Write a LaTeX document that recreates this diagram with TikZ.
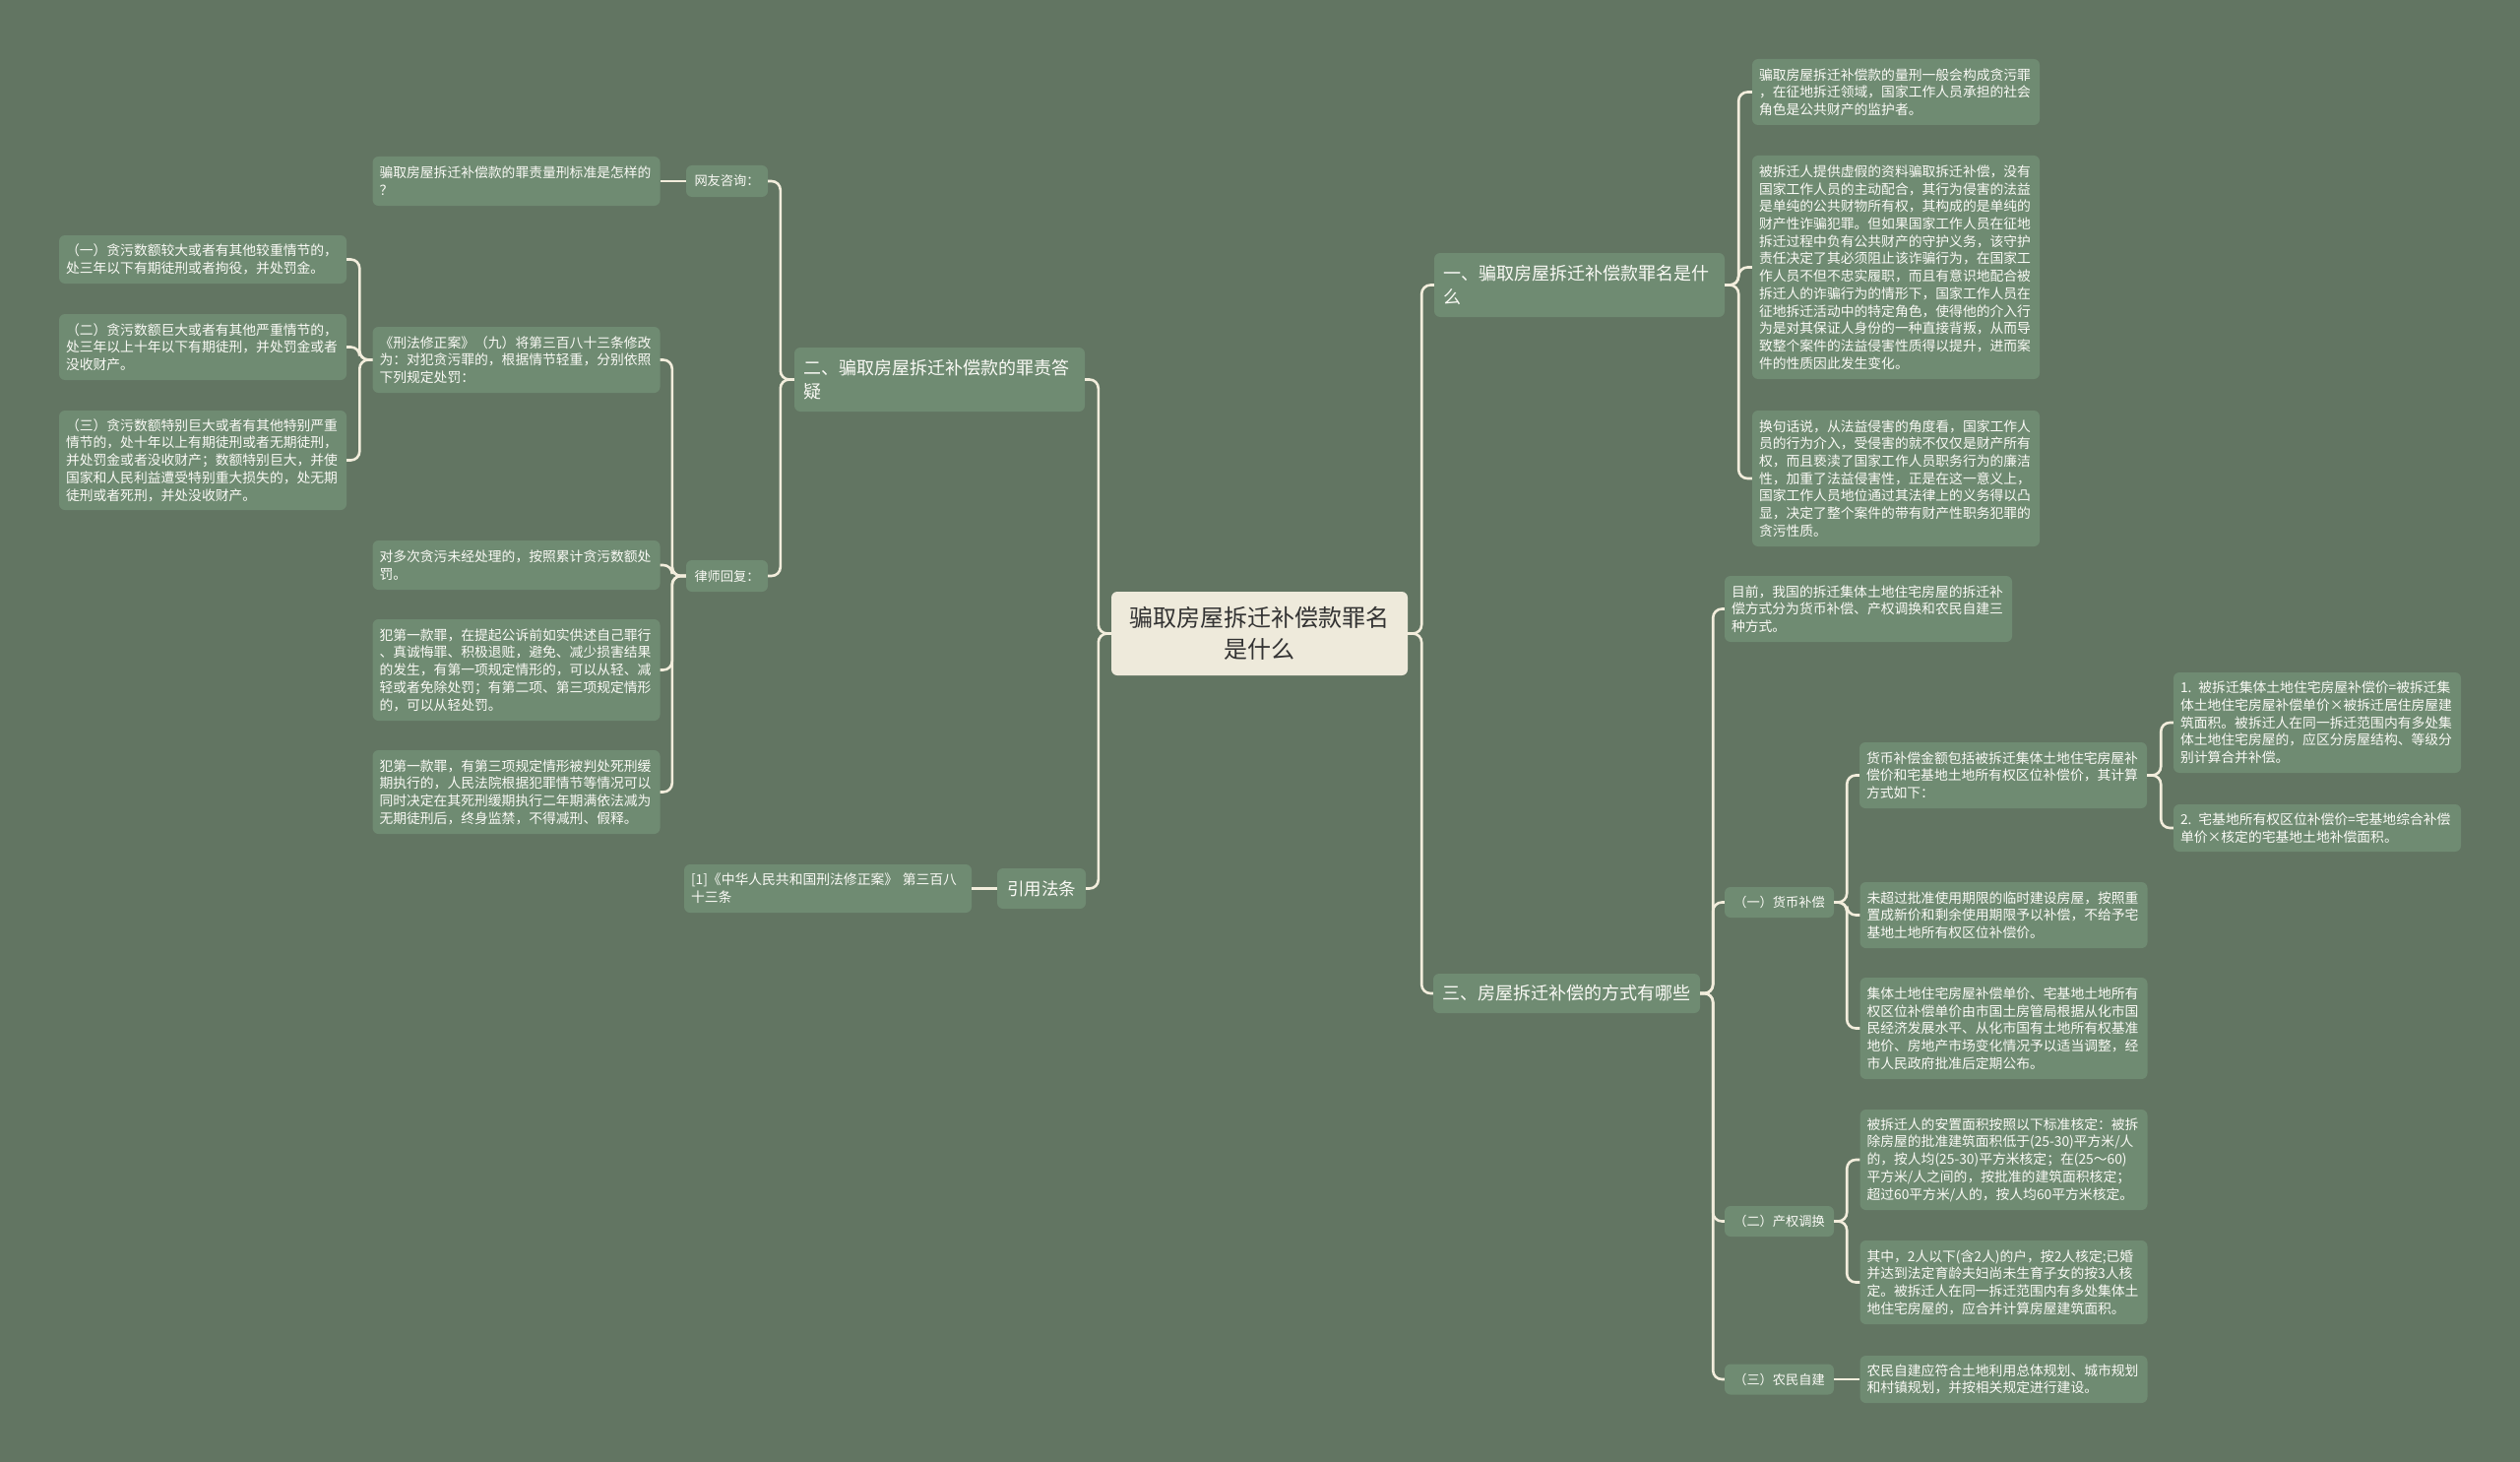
\documentclass[tikz,border=0pt]{standalone}
\usepackage{fontspec}
\setmainfont{Noto Sans CJK SC}
\definecolor{bg}{HTML}{627562}
\definecolor{boxc}{HTML}{6F8B72}
\definecolor{linec}{HTML}{F2EDDC}
\definecolor{rootc}{HTML}{EEEADB}
\definecolor{txt}{HTML}{FAFAF5}
\definecolor{roottxt}{HTML}{333333}
\tikzset{
  leaf/.style={fill=boxc, rounded corners=6pt, text=txt, inner xsep=7pt, inner ysep=0pt,
    text width=278pt, align=left, font=\fontsize{13.8}{17.7}\selectfont},
  midbox/.style={fill=boxc, rounded corners=6pt, text=txt, inner sep=0pt,
    minimum width=111pt, minimum height=31pt, align=center, font=\fontsize{13.2}{17}\selectfont},
  headbox/.style={fill=boxc, rounded corners=6pt, text=txt, inner xsep=9pt, inner ysep=0pt,
    align=left, font=\fontsize{18}{24}\selectfont},
  rootbox/.style={fill=rootc, rounded corners=6pt, text=roottxt, inner sep=0pt,
    minimum width=301pt, minimum height=85pt, text width=290pt, align=center,
    font=\fontsize{24}{32}\selectfont},
  conn/.style={draw=linec, line width=2.6pt, rounded corners=9pt},
}
\begin{document}
\begin{tikzpicture}[x=1pt,y=-1pt]
\useasboundingbox (0,0) rectangle (2560,1485);
\fill[bg] (0,0) rectangle (2560,1485);

% root
\node[rootbox] (root) at (1279.5,643.5) {骗取房屋拆迁补偿款罪名\\是什么};

% right side
\node[headbox, text width=277pt, minimum height=65pt] (b1) at (1604.5,289.5) {一、骗取房屋拆迁补偿款罪名是什\\么};
\node[headbox, text width=253pt, minimum height=40pt] (b3) at (1591.5,1009) {三、房屋拆迁补偿的方式有哪些};

\node[leaf, minimum height=67pt] (L1a) at (1926,93.5) {骗取房屋拆迁补偿款的量刑一般会构成贪污罪\\，在征地拆迁领域，国家工作人员承担的社会\\角色是公共财产的监护者。};
\node[leaf, minimum height=227pt] (L1b) at (1926,271.5) {被拆迁人提供虚假的资料骗取拆迁补偿，没有\\国家工作人员的主动配合，其行为侵害的法益\\是单纯的公共财物所有权，其构成的是单纯的\\财产性诈骗犯罪。但如果国家工作人员在征地\\拆迁过程中负有公共财产的守护义务，该守护\\责任决定了其必须阻止该诈骗行为，在国家工\\作人员不但不忠实履职，而且有意识地配合被\\拆迁人的诈骗行为的情形下，国家工作人员在\\征地拆迁活动中的特定角色，使得他的介入行\\为是对其保证人身份的一种直接背叛，从而导\\致整个案件的法益侵害性质得以提升，进而案\\件的性质因此发生变化。};
\node[leaf, minimum height=138pt] (L1c) at (1926,486) {换句话说，从法益侵害的角度看，国家工作人\\员的行为介入，受侵害的就不仅仅是财产所有\\权，而且亵渎了国家工作人员职务行为的廉洁\\性，加重了法益侵害性，正是在这一意义上，\\国家工作人员地位通过其法律上的义务得以凸\\显，决定了整个案件的带有财产性职务犯罪的\\贪污性质。};

\node[leaf, minimum height=67pt] (intro) at (1898,618.5) {目前，我国的拆迁集体土地住宅房屋的拆迁补\\偿方式分为货币补偿、产权调换和农民自建三\\种方式。};
\node[midbox] (m1) at (1807.5,916.5) {（一）货币补偿};
\node[midbox] (m2) at (1807.5,1240.5) {（二）产权调换};
\node[midbox] (m3) at (1807.5,1401) {（三）农民自建};

\node[leaf, minimum height=67pt] (ma) at (2035,787.5) {货币补偿金额包括被拆迁集体土地住宅房屋补\\偿价和宅基地土地所有权区位补偿价，其计算\\方式如下：};
\node[leaf, minimum height=67pt] (mb) at (2035.5,929.5) {未超过批准使用期限的临时建设房屋，按照重\\置成新价和剩余使用期限予以补偿，不给予宅\\基地土地所有权区位补偿价。};
\node[leaf, minimum height=103pt] (mc) at (2035.5,1044.5) {集体土地住宅房屋补偿单价、宅基地土地所有\\权区位补偿单价由市国土房管局根据从化市国\\民经济发展水平、从化市国有土地所有权基准\\地价、房地产市场变化情况予以适当调整，经\\市人民政府批准后定期公布。};

\node[leaf, minimum height=102pt] (s1) at (2354,734) {1. 被拆迁集体土地住宅房屋补偿价=被拆迁集\\体土地住宅房屋补偿单价×被拆迁居住房屋建\\筑面积。被拆迁人在同一拆迁范围内有多处集\\体土地住宅房屋的，应区分房屋结构、等级分\\别计算合并补偿。};
\node[leaf, minimum height=48pt] (s2) at (2354,841) {2. 宅基地所有权区位补偿价=宅基地综合补偿\\单价×核定的宅基地土地补偿面积。};

\node[leaf, minimum height=102pt] (p1) at (2035.5,1178) {被拆迁人的安置面积按照以下标准核定：被拆\\除房屋的批准建筑面积低于(25-30)平方米/人\\的，按人均(25-30)平方米核定；在(25～60)\\平方米/人之间的，按批准的建筑面积核定；\\超过60平方米/人的，按人均60平方米核定。};
\node[leaf, minimum height=85pt] (p2) at (2035.5,1302.5) {其中，2人以下(含2人)的户，按2人核定;已婚\\并达到法定育龄夫妇尚未生育子女的按3人核\\定。被拆迁人在同一拆迁范围内有多处集体土\\地住宅房屋的，应合并计算房屋建筑面积。};
\node[leaf, minimum height=48pt] (n1) at (2035.5,1401) {农民自建应符合土地利用总体规划、城市规划\\和村镇规划，并按相关规定进行建设。};

% left side
\node[headbox, text width=277pt, minimum height=65pt] (b2) at (954.5,385.5) {二、骗取房屋拆迁补偿款的罪责答\\疑};
\node[fill=boxc, rounded corners=6pt, text=txt, inner sep=0pt, minimum width=90pt, minimum height=41pt,
  font=\fontsize{17.5}{22}\selectfont] (b4) at (1058,902.5) {引用法条};
\node[leaf, minimum height=49pt] (b4c) at (841,902.5) {[1]《中华人民共和国刑法修正案》 第三百八\\十三条};

\node[midbox, minimum width=83pt, minimum height=32pt] (ask) at (738.5,184) {网友咨询：};
\node[midbox, minimum width=83pt, minimum height=32pt] (ans) at (738.5,585) {律师回复：};

\node[leaf, minimum height=50pt] (w1) at (524.5,184) {骗取房屋拆迁补偿款的罪责量刑标准是怎样的\\？};
\node[leaf, minimum height=67pt] (q1) at (524.5,365.5) {《刑法修正案》（九）将第三百八十三条修改\\为：对犯贪污罪的，根据情节轻重，分别依照\\下列规定处罚：};
\node[leaf, minimum height=50pt] (q2) at (524.5,574) {对多次贪污未经处理的，按照累计贪污数额处\\罚。};
\node[leaf, minimum height=103pt] (q3) at (524.5,680.5) {犯第一款罪，在提起公诉前如实供述自己罪行\\、真诚悔罪、积极退赃，避免、减少损害结果\\的发生，有第一项规定情形的，可以从轻、减\\轻或者免除处罚；有第二项、第三项规定情形\\的，可以从轻处罚。};
\node[leaf, minimum height=85pt] (q4) at (524.5,804.5) {犯第一款罪，有第三项规定情形被判处死刑缓\\期执行的，人民法院根据犯罪情节等情况可以\\同时决定在其死刑缓期执行二年期满依法减为\\无期徒刑后，终身监禁，不得减刑、假释。};

\node[leaf, minimum height=49pt] (r1) at (206,263.5) {（一）贪污数额较大或者有其他较重情节的，\\处三年以下有期徒刑或者拘役，并处罚金。};
\node[leaf, minimum height=67pt] (r2) at (206,352.5) {（二）贪污数额巨大或者有其他严重情节的，\\处三年以上十年以下有期徒刑，并处罚金或者\\没收财产。};
\node[leaf, minimum height=101pt] (r3) at (206,467.5) {（三）贪污数额特别巨大或者有其他特别严重\\情节的，处十年以上有期徒刑或者无期徒刑，\\并处罚金或者没收财产；数额特别巨大，并使\\国家和人民利益遭受特别重大损失的，处无期\\徒刑或者死刑，并处没收财产。};

% connectors right
\foreach \c in {b1,b3}
  \draw[conn] (root.east) -- ([xshift=14pt]root.east) |- (\c.west);
\foreach \c in {L1a,L1b,L1c}
  \draw[conn] (b1.east) -- ([xshift=14pt]b1.east) |- (\c.west);
\foreach \c in {intro,m1,m2,m3}
  \draw[conn] (b3.east) -- ([xshift=13pt]b3.east) |- (\c.west);
\foreach \c in {ma,mb,mc}
  \draw[conn] (m1.east) -- ([xshift=13pt]m1.east) |- (\c.west);
\foreach \c in {s1,s2}
  \draw[conn] (ma.east) -- ([xshift=14pt]ma.east) |- (\c.west);
\foreach \c in {p1,p2}
  \draw[conn] (m2.east) -- ([xshift=13pt]m2.east) |- (\c.west);
\draw[conn] (m3.east) -- (n1.west);

% connectors left
\foreach \c in {b2,b4}
  \draw[conn] (root.west) -- ([xshift=-13pt]root.west) |- (\c.east);
\foreach \c in {ask,ans}
  \draw[conn] (b2.west) -- ([xshift=-14pt]b2.west) |- (\c.east);
\draw[conn] (ask.west) -- (w1.east);
\foreach \c in {q1,q2,q3,q4}
  \draw[conn] (ans.west) -- ([xshift=-14pt]ans.west) |- (\c.east);
\foreach \c in {r1,r2,r3}
  \draw[conn] (q1.west) -- ([xshift=-13pt]q1.west) |- (\c.east);
\draw[conn] (b4.west) -- (b4c.east);
\end{tikzpicture}
\end{document}
